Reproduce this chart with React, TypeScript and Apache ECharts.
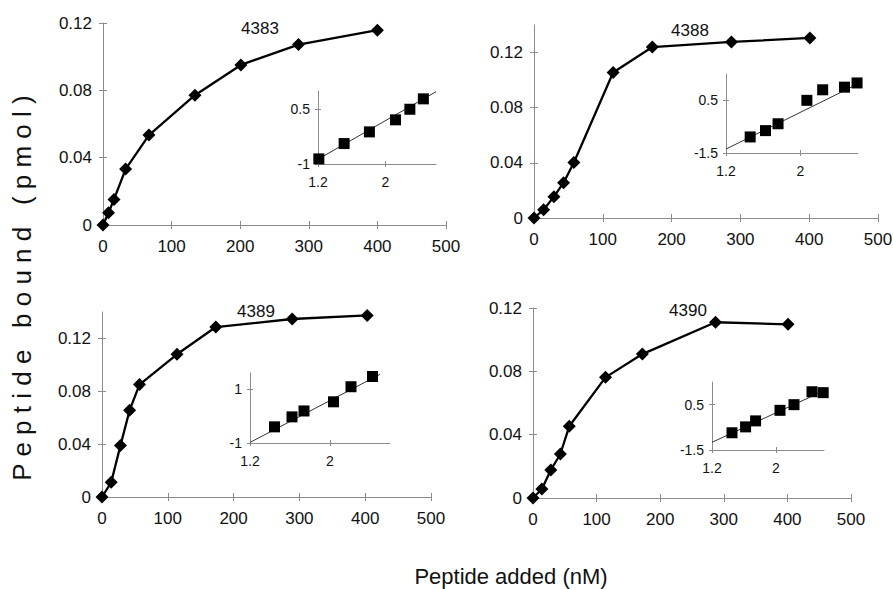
import React, { useEffect, useRef } from "react";
import * as echarts from "echarts";

// ---------- data ----------
const panelNames = ["4383", "4388", "4389", "4390"];

// main curves: peptide added (nM) vs peptide bound (pmol)
const p1Added = [0, 8, 16, 33, 67, 134, 201, 285, 400];
const p1Bound = [0, 0.0073, 0.0152, 0.0332, 0.0534, 0.0771, 0.0951, 0.1072, 0.1157];
const p2Added = [0, 14, 29, 43, 58, 115, 172, 287, 401];
const p2Bound = [0, 0.006, 0.0155, 0.0256, 0.0403, 0.1055, 0.124, 0.1277, 0.1306];
const p3Added = [0, 14, 28, 42, 57, 114, 173, 289, 403];
const p3Bound = [0, 0.0111, 0.0389, 0.0657, 0.0851, 0.108, 0.1286, 0.1347, 0.1374];
const p4Added = [0, 14, 28, 43, 57, 114, 172, 287, 401];
const p4Bound = [0, 0.0057, 0.0177, 0.0278, 0.0453, 0.0762, 0.0909, 0.111, 0.1097];

// inset (log plots)
const i1X = [1.21, 1.51, 1.81, 2.12, 2.29, 2.45];
const i1Y = [-0.86, -0.44, -0.12, 0.21, 0.5, 0.785];
const i1FitX = [1.2, 2.6];
const i1FitY = [-0.87, 0.98];
const i2X = [1.46, 1.625, 1.76, 2.07, 2.24, 2.475, 2.61];
const i2Y = [-0.89, -0.65, -0.39, 0.5, 0.9, 1.0, 1.16];
const i2FitX = [1.2, 2.6];
const i2FitY = [-1.35, 1.09];
const i3X = [1.445, 1.62, 1.74, 2.035, 2.21, 2.425];
const i3Y = [-0.4, -0.03, 0.19, 0.53, 1.09, 1.47];
const i3FitX = [1.2, 2.5];
const i3FitY = [-0.98, 1.55];
const i4X = [1.45, 1.62, 1.745, 2.05, 2.225, 2.45, 2.59];
const i4Y = [-0.74, -0.48, -0.215, 0.25, 0.5, 1.07, 1.03];
const i4FitX = [1.2, 2.59];
const i4FitY = [-1.16, 1.1];

// tick labels
const mainXTicks = [0, 100, 200, 300, 400, 500];
const mainYTicks = [0, 0.04, 0.08, 0.12];
const insetXTicks = [1.2, 2];
const i1YTicks = [-1, 0.5];
const i2YTicks = [-1.5, 0.5];
const i3YTicks = [-1, 1];
const i4YTicks = [-1.5, 0.5];

const yTitle = "P e p t i d e   b o u n d   ( p m o l )";
const xTitle = "Peptide added (nM)";

const FONT = "'Liberation Sans', Arial, Helvetica, sans-serif";
const AXIS_COLOR = "#8c8c8c";

const zip = (a: number[], b: number[]) => a.map((v, i) => [v, b[i]]);

const mainPanels = [
  { x: p1Added, y: p1Bound, yMax: 0.12, grid: { left: 103, top: 23, width: 343, height: 202 }, label: [260, 28] },
  { x: p2Added, y: p2Bound, yMax: 0.14, grid: { left: 534, top: 25, width: 344, height: 193 }, label: [690, 30] },
  { x: p3Added, y: p3Bound, yMax: 0.14, grid: { left: 102, top: 312, width: 329, height: 185 }, label: [256, 311] },
  { x: p4Added, y: p4Bound, yMax: 0.12, grid: { left: 533, top: 308, width: 318, height: 190 }, label: [688, 310] },
];

const insets = [
  { x: i1X, y: i1Y, fx: i1FitX, fy: i1FitY, yMin: -1, yMax: 1, xMax: 2.6, yTicks: i1YTicks, grid: { left: 318, top: 91, width: 118, height: 73 } },
  { x: i2X, y: i2Y, fx: i2FitX, fy: i2FitY, yMin: -1.5, yMax: 1.5, xMax: 2.62, yTicks: i2YTicks, grid: { left: 726, top: 74, width: 132, height: 79 } },
  { x: i3X, y: i3Y, fx: i3FitX, fy: i3FitY, yMin: -1, yMax: 1.6, xMax: 2.6, yTicks: i3YTicks, grid: { left: 250, top: 373, width: 140, height: 70 } },
  { x: i4X, y: i4Y, fx: i4FitX, fy: i4FitY, yMin: -1.5, yMax: 1.5, xMax: 2.6, yTicks: i4YTicks, grid: { left: 712, top: 382, width: 112, height: 68 } },
];

function buildOption() {
  const grid: any[] = [];
  const xAxis: any[] = [];
  const yAxis: any[] = [];
  const series: any[] = [];
  const graphic: any[] = [];

  const addAxes = (
    gi: number,
    xMin: number,
    xMax: number,
    xTicks: number[],
    yMin: number,
    yMax: number,
    yTicks: number[],
    fontSize: number,
    tickLen: number,
    xMargin: number,
    yMargin: number
  ) => {
    const common = { gridIndex: gi, type: "value", splitLine: { show: false } };
    xAxis.push({
      ...common,
      position: "bottom",
      min: xMin,
      max: xMax,
      axisLine: { show: true, onZero: false, lineStyle: { color: AXIS_COLOR, width: 1 } },
      axisTick: { show: true, length: tickLen, customValues: xTicks, lineStyle: { color: AXIS_COLOR } },
      axisLabel: {
        show: true,
        customValues: xTicks,
        color: "#111",
        fontSize,
        fontFamily: FONT,
        margin: xMargin,
        formatter: (v: number) => String(v),
      },
    });
    yAxis.push({
      ...common,
      position: "left",
      min: yMin,
      max: yMax,
      axisLine: { show: true, onZero: false, lineStyle: { color: AXIS_COLOR, width: 1 } },
      axisTick: { show: true, length: tickLen, customValues: yTicks, lineStyle: { color: AXIS_COLOR } },
      axisLabel: {
        show: true,
        customValues: yTicks,
        color: "#111",
        fontSize,
        fontFamily: FONT,
        margin: yMargin,
        formatter: (v: number) => String(v),
      },
    });
    xAxis.push({
      ...common,
      position: "bottom",
      min: xMin,
      max: xMax,
      axisLine: { show: false, onZero: false },
      axisTick: { show: true, inside: true, length: tickLen, customValues: xTicks, lineStyle: { color: AXIS_COLOR } },
      axisLabel: { show: false },
    });
    yAxis.push({
      ...common,
      position: "left",
      min: yMin,
      max: yMax,
      axisLine: { show: false, onZero: false },
      axisTick: { show: true, inside: true, length: tickLen, customValues: yTicks, lineStyle: { color: AXIS_COLOR } },
      axisLabel: { show: false },
    });
  };

  mainPanels.forEach((p, i) => {
    grid.push({ ...p.grid, outerBoundsMode: "none", containLabel: false });
    addAxes(i, 0, 500, mainXTicks, 0, p.yMax, mainYTicks, 17, 4, 13, 11);
    series.push({
      type: "line",
      xAxisIndex: 2 * i,
      yAxisIndex: 2 * i,
      data: zip(p.x, p.y),
      symbol: "diamond",
      symbolSize: 13,
      lineStyle: { color: "#000", width: 2.3 },
      itemStyle: { color: "#000", opacity: 1 },
      z: 3,
    });
    graphic.push({
      type: "text",
      x: p.label[0],
      y: p.label[1],
      style: {
        text: panelNames[i],
        fill: "#111",
        font: `17px ${FONT}`,
        align: "center",
        verticalAlign: "middle",
      },
    });
  });

  insets.forEach((p, k) => {
    const gi = 4 + k;
    grid.push({ ...p.grid, outerBoundsMode: "none", containLabel: false });
    addAxes(gi, 1.2, p.xMax, insetXTicks, p.yMin, p.yMax, p.yTicks, 14, 3, 11, 8);
    series.push({
      type: "line",
      xAxisIndex: 2 * gi,
      yAxisIndex: 2 * gi,
      data: zip(p.fx, p.fy),
      symbol: "none",
      clip: false,
      lineStyle: { color: "#333", width: 1 },
      z: 2,
    });
    series.push({
      type: "scatter",
      xAxisIndex: 2 * gi,
      yAxisIndex: 2 * gi,
      data: zip(p.x, p.y),
      symbol: "rect",
      symbolSize: 11,
      itemStyle: { color: "#000", opacity: 1 },
      clip: false,
      z: 3,
    });
  });

  graphic.push({
    type: "text",
    x: 22,
    y: 288,
    rotation: Math.PI / 2,
    style: {
      text: yTitle,
      fill: "#111",
      font: `26px ${FONT}`,
      align: "center",
      verticalAlign: "middle",
    },
  });
  graphic.push({
    type: "text",
    x: 511,
    y: 576,
    style: {
      text: xTitle,
      fill: "#111",
      font: `22px ${FONT}`,
      align: "center",
      verticalAlign: "middle",
    },
  });

  return {
    animation: false,
    backgroundColor: "#ffffff",
    grid,
    xAxis,
    yAxis,
    series,
    graphic,
  };
}

export default function App() {
  const ref = useRef<HTMLDivElement>(null);
  useEffect(() => {
    document.body.style.margin = "0";
    if (!ref.current) return;
    const chart = echarts.init(ref.current, undefined, { renderer: "svg" });
    chart.setOption(buildOption() as any);
    return () => chart.dispose();
  }, []);
  return <div ref={ref} style={{ width: 893, height: 589 }} />;
}
